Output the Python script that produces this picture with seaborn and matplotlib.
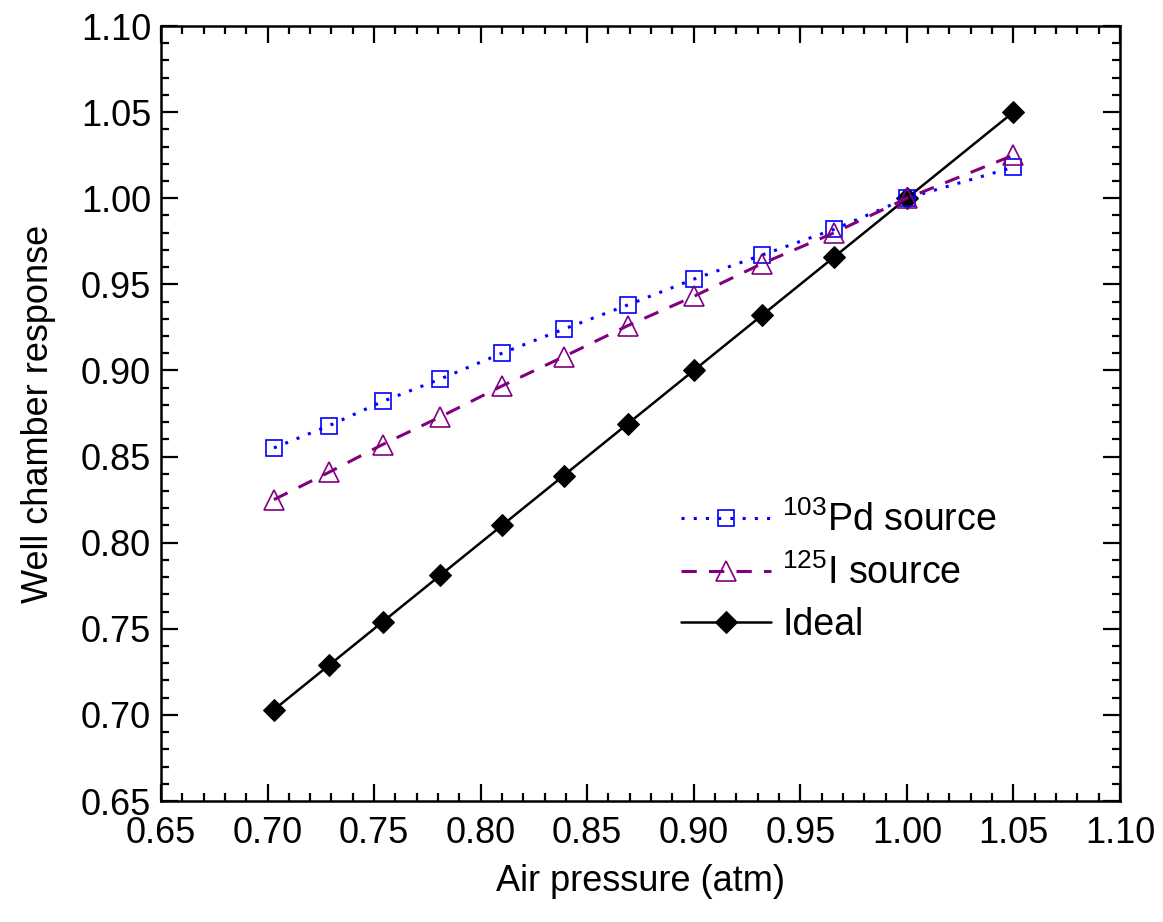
import matplotlib
matplotlib.use("Agg")
import matplotlib.pyplot as plt
from matplotlib.ticker import MultipleLocator, FormatStrFormatter
import pandas as pd
import seaborn as sns

# air pressure (atm) and normalised well chamber response
pressure = [0.703, 0.729, 0.754, 0.781, 0.810, 0.839, 0.869, 0.900, 0.932, 0.966, 1.000, 1.050]
pd103 = [0.855, 0.868, 0.882, 0.895, 0.910, 0.924, 0.938, 0.953, 0.967, 0.982, 1.000, 1.018]
i125 = [0.825, 0.841, 0.857, 0.873, 0.891, 0.908, 0.926, 0.943, 0.962, 0.980, 1.000, 1.025]
ideal = [0.703, 0.729, 0.754, 0.781, 0.810, 0.839, 0.869, 0.900, 0.932, 0.966, 1.000, 1.050]

labels = [r'$^{103}$Pd source', r'$^{125}$I source', 'Ideal']

sns.set_style("ticks")
plt.rcParams['font.family'] = ['Liberation Sans', 'DejaVu Sans']
plt.rcParams['mathtext.fontset'] = 'custom'
plt.rcParams['mathtext.rm'] = 'Liberation Sans'
plt.rcParams['mathtext.it'] = 'Liberation Sans:italic'
for k in ['text.color', 'axes.labelcolor', 'xtick.color', 'ytick.color', 'axes.edgecolor']:
    plt.rcParams[k] = 'black'

df = pd.DataFrame({'pressure': pressure, 'pd': pd103, 'i': i125, 'ideal': ideal})

fig = plt.figure(figsize=(11.63, 9.22), dpi=100)
ax = fig.add_axes([0.1384, 0.1312, 0.8246, 0.8406])

sns.lineplot(data=df, x='pressure', y='pd', ax=ax, color='#0000ff', linestyle=(0, (1, 3)),
             linewidth=2.2, marker='s', markersize=11, markerfacecolor='none',
             markeredgecolor='#0000ff', markeredgewidth=1.2, label=labels[0], sort=False,
             zorder=3)
sns.lineplot(data=df, x='pressure', y='i', ax=ax, color='#800080', linestyle=(0, (5, 4)),
             linewidth=2.2, marker='^', markersize=14, markerfacecolor='none',
             markeredgecolor='#800080', markeredgewidth=1.2, label=labels[1], sort=False,
             zorder=4)
sns.lineplot(data=df, x='pressure', y='ideal', ax=ax, color='black', linestyle='-',
             linewidth=1.8, marker='D', markersize=11, markerfacecolor='black',
             markeredgecolor='black', label=labels[2], sort=False, zorder=2)

ax.set_xlim(0.65, 1.10)
ax.set_ylim(0.65, 1.10)
ax.xaxis.set_major_locator(MultipleLocator(0.05))
ax.xaxis.set_minor_locator(MultipleLocator(0.01))
ax.yaxis.set_major_locator(MultipleLocator(0.05))
ax.yaxis.set_minor_locator(MultipleLocator(0.01))
ax.xaxis.set_major_formatter(FormatStrFormatter('%.2f'))
ax.yaxis.set_major_formatter(FormatStrFormatter('%.2f'))

ax.tick_params(which='both', direction='in', top=True, right=True, width=1.6)
ax.tick_params(which='major', length=12, labelsize=26)
ax.tick_params(axis='x', which='major', pad=11)
ax.tick_params(axis='y', which='major', pad=7)
ax.tick_params(which='minor', length=6)
for s in ax.spines.values():
    s.set_linewidth(1.8)
    s.set_visible(True)

ax.set_xlabel('Air pressure (atm)', fontsize=26, labelpad=9)
ax.set_ylabel('Well chamber response', fontsize=26, labelpad=18)

ax.legend(loc='upper left', bbox_to_anchor=(0.507, 0.43), frameon=False, fontsize=27,
          handlelength=2.4, labelspacing=0.4, handletextpad=0.3)

fig.savefig('out.png', dpi=100)
